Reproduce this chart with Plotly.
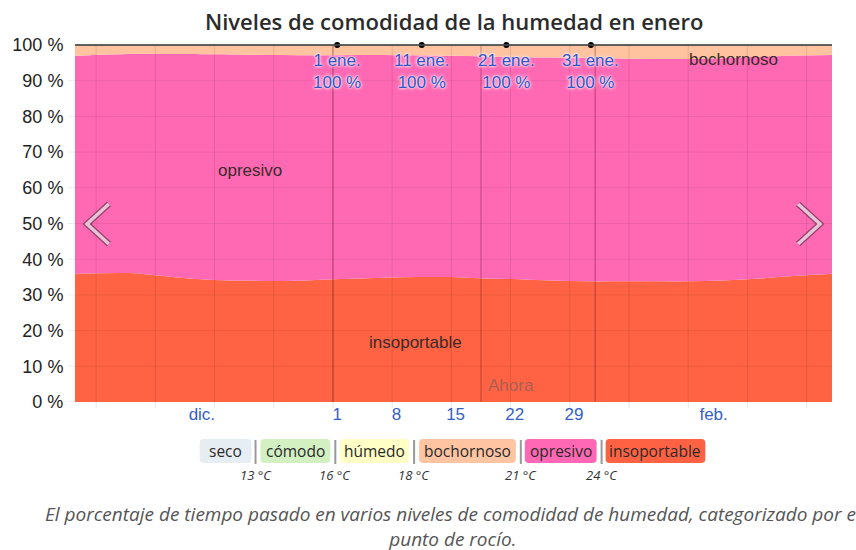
import plotly.graph_objects as go

# ---------------- data ----------------
dates = ["2022-12-01 12:00", "2022-12-08", "2022-12-11", "2022-12-15", "2022-12-18",
         "2022-12-22", "2022-12-26", "2022-12-30", "2023-01-03", "2023-01-07",
         "2023-01-11", "2023-01-15", "2023-01-19", "2023-01-23", "2023-01-27",
         "2023-01-31", "2023-02-04", "2023-02-08", "2023-02-12", "2023-02-16",
         "2023-02-20", "2023-02-24", "2023-03-01"]
insoportable = [35.9, 36.1, 35.5, 34.6, 34.2, 34.0, 33.9, 34.2, 34.5, 34.8, 35.0, 35.0,
                34.6, 34.4, 34.0, 33.8, 33.8, 33.8, 33.8, 34.0, 34.5, 35.2, 35.9]
opresivo = [61.1, 61.4, 62.0, 62.9, 63.2, 63.3, 63.3, 62.9, 62.7, 62.4, 62.1, 62.0,
            62.2, 62.2, 62.5, 62.6, 62.4, 62.3, 62.3, 62.3, 62.2, 61.8, 61.3]
bochornoso = [3.0, 2.5, 2.5, 2.5, 2.6, 2.7, 2.8, 2.9, 2.8, 2.8, 2.9, 3.0,
              3.2, 3.4, 3.5, 3.6, 3.8, 3.9, 3.9, 3.7, 3.3, 3.0, 2.8]

x_tick_vals = ["2022-12-16 12:00", "2023-01-01 12:00", "2023-01-08 12:00",
               "2023-01-15 12:00", "2023-01-22 12:00", "2023-01-29 12:00", "2023-02-15"]
x_tick_text = ["dic.", "1", "8", "15", "22", "29", "feb."]
y_tick_vals = [0, 10, 20, 30, 40, 50, 60, 70, 80, 90, 100]
y_tick_text = [f"{v} %" for v in y_tick_vals]

marker_dates = ["2023-01-01 12:00", "2023-01-11 12:00", "2023-01-21 12:00", "2023-01-31 12:00"]
marker_names = ["1 ene.", "11 ene.", "21 ene.", "31 ene."]
marker_values = [100, 100, 100, 100]

legend_names = ["seco", "cómodo", "húmedo", "bochornoso", "opresivo", "insoportable"]
legend_colors = ["#e6eef3", "#d2f0c2", "#ffffc6", "#ffc4a2", "#ff68b4", "#ff6243"]
thresholds = ["13 °C", "16 °C", "18 °C", "21 °C", "24 °C"]

week_lines = ["2022-12-04", "2022-12-11", "2022-12-18", "2022-12-25", "2023-01-01",
              "2023-01-08", "2023-01-15", "2023-01-22", "2023-01-29", "2023-02-05",
              "2023-02-12", "2023-02-19", "2023-02-26"]
month_lines = ["2023-01-01", "2023-02-01"]
now_line = "2023-01-18 12:00"

X_RANGE = ["2022-12-01 12:00", "2023-03-01"]

# ---------------- layout geometry (pixels) ----------------
W, H = 856, 550
PL, PR, PT, PB = 73, 832, 45, 402


def fx(px):
    return (px - PL) / (PR - PL)


def fy(py):
    return (PB - py) / (PB - PT)


def rounded_rect(x0, y0, x1, y1, r=4):
    rx = r / (PR - PL)
    ry = r / (PB - PT)
    a, b, c, d = fx(x0), fx(x1), fy(y1), fy(y0)  # left, right, bottom, top
    return (f"M{a+rx},{d} L{b-rx},{d} Q{b},{d} {b},{d-ry} L{b},{c+ry} Q{b},{c} {b-rx},{c} "
            f"L{a+rx},{c} Q{a},{c} {a},{c+ry} L{a},{d-ry} Q{a},{d} {a+rx},{d} Z")


fig = go.Figure()

series = [("insoportable", insoportable, "#ff6343"),
          ("opresivo", opresivo, "#ff69b4"),
          ("bochornoso", bochornoso, "#ffc3a0")]
for name, vals, col in series:
    fig.add_trace(go.Scatter(x=dates, y=vals, name=name, stackgroup="one",
                             mode="lines", line=dict(width=0, shape="spline"),
                             fillcolor=col, hoverinfo="skip", showlegend=False))

fig.add_trace(go.Scatter(x=marker_dates, y=marker_values, mode="markers",
                         marker=dict(size=6, color="black"), cliponaxis=False,
                         hoverinfo="skip", showlegend=False))

shapes = []
for d in week_lines:
    shapes.append(dict(type="line", xref="x", yref="paper", x0=d, x1=d, y0=fy(408), y1=1,
                       line=dict(color="rgba(0,0,0,0.10)", width=1), layer="above"))
for d in month_lines:
    shapes.append(dict(type="line", xref="x", yref="paper", x0=d, x1=d, y0=0, y1=1,
                       line=dict(color="rgba(60,0,20,0.38)", width=1), layer="above"))
shapes.append(dict(type="line", xref="x", yref="paper", x0=now_line, x1=now_line, y0=0, y1=1,
                   line=dict(color="rgba(60,0,20,0.32)", width=1), layer="above"))
for v in y_tick_vals[1:-1]:
    shapes.append(dict(type="line", xref="paper", yref="y", x0=fx(66), x1=1, y0=v, y1=v,
                       line=dict(color="rgba(0,0,0,0.07)", width=1), layer="above"))
shapes.append(dict(type="line", xref="paper", yref="y", x0=fx(66), x1=0, y0=0, y1=0,
                   line=dict(color="rgba(0,0,0,0.10)", width=1), layer="above"))
shapes.append(dict(type="line", xref="paper", yref="paper", x0=0, x1=1, y0=1, y1=1,
                   line=dict(color="rgba(70,70,70,0.85)", width=2), layer="above"))

# chevrons
left_chev = [(107, 204), (85, 224), (107, 244)]
right_chev = [(798, 204), (820, 224), (798, 244)]
for pts in (left_chev, right_chev):
    path = "M" + " L".join(f"{fx(px)},{fy(py)}" for px, py in pts)
    shapes.append(dict(type="path", xref="paper", yref="paper", path=path,
                       line=dict(color="rgba(120,55,90,0.8)", width=6), layer="above"))
    shapes.append(dict(type="path", xref="paper", yref="paper", path=path,
                       line=dict(color="rgba(232,196,215,1)", width=3.5), layer="above"))

# legend boxes
boxes = [(198, 250), (259, 329), (339, 408), (418, 515), (524, 596), (605, 705)]
seps = [254, 334, 413, 520, 601]
annotations = []
for (x0, x1), name, col in zip(boxes, legend_names, legend_colors):
    shapes.append(dict(type="path", xref="paper", yref="paper",
                       path=rounded_rect(x0, 439, x1, 463, 4),
                       fillcolor=col, line=dict(width=0)))
    annotations.append(dict(xref="paper", yref="paper", x=fx((x0 + x1) / 2), y=fy(451),
                            text=name, showarrow=False, xanchor="center", yanchor="middle",
                            font=dict(family="Open Sans, Noto Sans", size=15.5, color="#2a2a2a")))
for sx, t in zip(seps, thresholds):
    shapes.append(dict(type="line", xref="paper", yref="paper", x0=fx(sx), x1=fx(sx),
                       y0=fy(440), y1=fy(464), line=dict(color="#999", width=2)))
    annotations.append(dict(xref="paper", yref="paper", x=fx(sx), y=fy(475),
                            text=f"<i>{t}</i>", showarrow=False, xanchor="center",
                            yanchor="middle",
                            font=dict(family="Open Sans, Noto Sans", size=13, color="#333")))

for d, nm, v in zip(marker_dates, marker_names, marker_values):
    annotations.append(dict(xref="x", yref="paper", x=d, y=fy(72), text=f"{nm}<br>{v} %",
                            showarrow=False, xanchor="center", yanchor="middle",
                            font=dict(family="Arial, Liberation Sans", size=17, color="#2f55c8",
                                      shadow="0 0 2px #fff, 0 0 3px #fde, 0 0 4px #fde")))

label_font = dict(family="Arial, Liberation Sans", size=17, color="#3a2a2a")
annotations += [
    dict(xref="paper", yref="paper", x=fx(248), y=fy(170), text="opresivo", showarrow=False,
         xanchor="center", yanchor="middle", font=label_font),
    dict(xref="paper", yref="paper", x=fx(414), y=fy(342), text="insoportable", showarrow=False,
         xanchor="center", yanchor="middle", font=label_font),
    dict(xref="paper", yref="paper", x=fx(733), y=fy(60), text="bochornoso", showarrow=False,
         xanchor="center", yanchor="middle", font=label_font),
    dict(xref="paper", yref="paper", x=fx(510), y=fy(385), text="Ahora", showarrow=False,
         xanchor="center", yanchor="middle",
         font=dict(family="Arial, Liberation Sans", size=17, color="rgba(160,95,85,0.9)")),
    dict(xref="paper", yref="paper", x=fx(453), y=fy(21),
         text="Niveles de comodidad de la humedad en enero", showarrow=False,
         xanchor="center", yanchor="middle",
         font=dict(family="Open Sans, Noto Sans", size=22, color="#2b2b2b", weight=600)),
    dict(xref="paper", yref="paper", x=fx(452), y=fy(526),
         text="<i>El porcentaje de tiempo pasado en varios niveles de comodidad de humedad, "
              "categorizado por el<br>punto de rocío.</i>",
         showarrow=False, xanchor="center", yanchor="middle", align="center",
         font=dict(family="Open Sans, Noto Sans", size=19, color="#555")),
]

fig.update_layout(
    width=W, height=H, margin=dict(l=PL, r=W - PR, t=PT, b=H - PB),
    paper_bgcolor="white", plot_bgcolor="white", showlegend=False,
    shapes=shapes, annotations=annotations, hovermode=False,
    xaxis=dict(type="date", range=X_RANGE, tickmode="array", tickvals=x_tick_vals,
               ticktext=x_tick_text, showgrid=False, zeroline=False, ticks="",
               tickfont=dict(family="Arial, Liberation Sans", size=17, color="#3560c8"),
               fixedrange=True),
    yaxis=dict(range=[0, 100], tickmode="array", tickvals=y_tick_vals, ticktext=y_tick_text,
               showgrid=False, zeroline=False, ticks="outside", ticklen=7,
               tickcolor="rgba(0,0,0,0)",
               tickfont=dict(family="Arial, Liberation Sans", size=18, color="#222"),
               fixedrange=True),
)

fig.write_html("out.html", config={"displayModeBar": False},
               post_script="document.body.style.margin='0';document.body.style.overflow='hidden';")
